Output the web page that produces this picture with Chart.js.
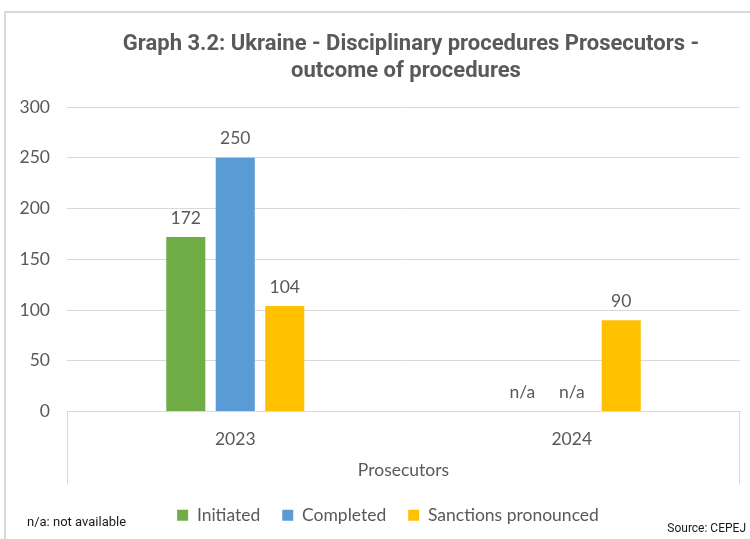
<!DOCTYPE html>
<html>
<head>
<meta charset="utf-8">
<script src="https://cdn.jsdelivr.net/npm/chart.js@4"></script>
<style>
    body { margin: 0; background: #fff; }
    #wrap { width: 750px; height: 539px; overflow: hidden; position: relative; }
    canvas { display: block; }
</style>
</head>
<body>
<div id="wrap"><canvas id="graph" width="776" height="545"></canvas></div>
<script>
// Données du graphique
const years = ['2023', '2024'];
const initiated = [172, null];
const completed = [250, null];
const sanctions = [104, 90];
const yTicks = [0, 50, 100, 150, 200, 250, 300];

const titleLines = ['Graph 3.2: Ukraine - Disciplinary procedures Prosecutors -', 'outcome of procedures'];
const groupLabel = 'Prosecutors';
const noteText = 'n/a: not available';
const sourceText = 'Source: CEPEJ';

const grey = '#595959';
const lineGrey = '#d9d9d9';
const labelFont = { family: 'Lato', size: 17.5 };

// Cadre, titre et notes
const decorPlugin = {
    id: 'decor',
    afterLayout(chart) {
        // légende centrée sur toute la largeur du canvas
        if (chart.legend) {
            chart.legend.right = chart.width;
            chart.legend.width = chart.width - chart.legend.left;
        }
    },
    beforeDraw(chart) {
        const ctx = chart.ctx;
        ctx.save();
        ctx.fillStyle = '#fff';
        ctx.fillRect(0, 0, chart.width, chart.height);
        ctx.strokeStyle = lineGrey;
        ctx.lineWidth = 2;
        ctx.strokeRect(5, 12, chart.width + 50, chart.height + 50);
        ctx.restore();
    },
    afterDraw(chart) {
        const ctx = chart.ctx;
        const x = chart.scales.x;
        ctx.save();
        // bords verticaux de l'axe des catégories
        ctx.strokeStyle = lineGrey;
        ctx.lineWidth = 1;
        ctx.beginPath();
        ctx.moveTo(x.left + 0.5, x.top);
        ctx.lineTo(x.left + 0.5, x.bottom);
        ctx.moveTo(x.right - 0.5, x.top);
        ctx.lineTo(x.right - 0.5, x.bottom);
        ctx.stroke();

        ctx.fillStyle = grey;
        ctx.font = 'bold 22px Roboto';
        ctx.textAlign = 'center';
        ctx.textBaseline = 'middle';
        ctx.fillText(titleLines[0], 411, 44);
        ctx.fillText(titleLines[1], 406, 71);

        ctx.fillStyle = '#1a1a1a';
        ctx.font = '13px Roboto';
        ctx.textAlign = 'left';
        ctx.fillText(noteText, 27, 523);
        ctx.font = '12px Roboto';
        ctx.textAlign = 'right';
        ctx.fillText(sourceText, 746, 529);
        ctx.restore();
    }
};

// Étiquettes de valeurs au-dessus des barres
const valueLabels = {
    id: 'valueLabels',
    afterDatasetsDraw(chart) {
        const ctx = chart.ctx;
        const y = chart.scales.y;
        ctx.save();
        ctx.fillStyle = grey;
        ctx.font = labelFont.size + 'px ' + labelFont.family;
        ctx.textAlign = 'center';
        ctx.textBaseline = 'middle';
        chart.data.datasets.forEach((ds, i) => {
            const meta = chart.getDatasetMeta(i);
            meta.data.forEach((bar, j) => {
                const v = ds.data[j];
                const top = v == null ? y.getPixelForValue(0) : bar.y;
                ctx.fillText(v == null ? 'n/a' : String(v), bar.x, top - 19);
            });
        });
        ctx.restore();
    }
};

new Chart(document.getElementById('graph').getContext('2d'), {
    type: 'bar',
    data: {
        labels: years,
        datasets: [
            { label: 'Initiated', data: initiated, backgroundColor: '#70AD47' },
            { label: 'Completed', data: completed, backgroundColor: '#5B9BD5' },
            { label: 'Sanctions pronounced', data: sanctions, backgroundColor: '#FFC000' }
        ]
    },
    options: {
        responsive: false,
        animation: false,
        devicePixelRatio: 1,
        categoryPercentage: 0.441,
        barPercentage: 0.79,
        layout: { padding: { top: 107, right: 36, left: 0, bottom: 11 } },
        plugins: {
            title: { display: false },
            tooltip: { enabled: false },
            legend: {
                position: 'bottom',
                labels: {
                    boxWidth: 11,
                    boxHeight: 11,
                    padding: 22,
                    color: grey,
                    font: labelFont
                }
            }
        },
        scales: {
            x: {
                grid: { display: false },
                border: { display: true, color: lineGrey, width: 1 },
                ticks: { color: grey, padding: 9, font: labelFont },
                title: {
                    display: true,
                    text: groupLabel,
                    color: grey,
                    font: labelFont,
                    padding: { top: 10, bottom: 4 }
                },
                afterFit(scale) { scale.height = 73; }
            },
            y: {
                min: 0,
                max: 300,
                afterBuildTicks(scale) { scale.ticks = yTicks.map(v => ({ value: v })); },
                grid: { color: lineGrey, drawTicks: false },
                border: { display: false },
                ticks: { color: grey, padding: 17, font: labelFont },
                afterFit(scale) { scale.width = 67; }
            }
        }
    },
    plugins: [decorPlugin, valueLabels]
});
</script>
</body>
</html>
